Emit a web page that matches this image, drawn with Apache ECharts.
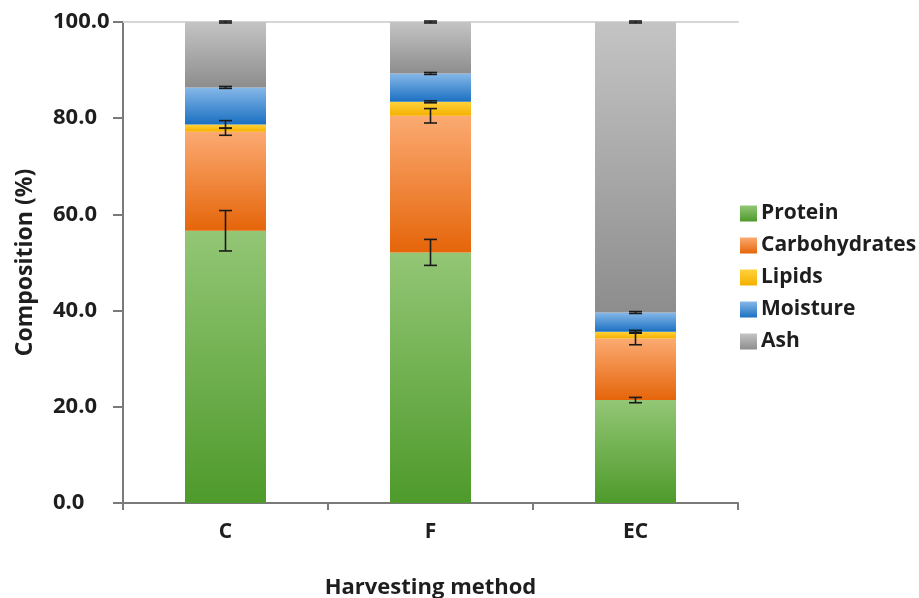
<!DOCTYPE html>
<html>
<head>
<meta charset="utf-8">
<script src="https://cdn.jsdelivr.net/npm/echarts@6/dist/echarts.min.js"></script>
<style>
  html, body { margin: 0; padding: 0; background: #fff; }
  #chart { width: 919px; height: 598px; }
</style>
</head>
<body>
<div id="chart"></div>
<script>
// Harvesting methods on the x axis
const categories = ['C', 'F', 'EC'];

// Composition (%) of each component, stacked bottom to top
const protein       = [56.6, 52.1, 21.4];
const carbohydrates = [20.6, 28.4, 12.8];
const lipids        = [1.5, 2.9, 1.4];
const moisture      = [7.7, 5.9, 4.0];
const ash           = [13.6, 10.7, 60.4];

// Standard deviations shown as error bars at the top of each segment
const proteinErr       = [4.2, 2.7, 0.55];
const carbohydratesErr = [0.75, 1.5, 1.3];
const lipidsErr        = [0.8, 0.2, 0.3];
const moistureErr      = [0.2, 0.2, 0.2];
const ashErr           = [0.2, 0.2, 0.2];

const yTicks = [0, 20, 40, 60, 80, 100];

const components = [
  { name: 'Protein',       values: protein,       err: proteinErr,       top: '#93c675', bottom: '#4e9a2b' },
  { name: 'Carbohydrates', values: carbohydrates, err: carbohydratesErr, top: '#fbaa72', bottom: '#e5650a' },
  { name: 'Lipids',        values: lipids,        err: lipidsErr,        top: '#ffd23c', bottom: '#f5b000' },
  { name: 'Moisture',      values: moisture,      err: moistureErr,      top: '#86b8e8', bottom: '#1b70c2' },
  { name: 'Ash',           values: ash,           err: ashErr,           top: '#c4c4c4', bottom: '#8d8d8d' }
];

const font = '"Open Sans", "DejaVu Sans", sans-serif';

function gradient(top, bottom) {
  return new echarts.graphic.LinearGradient(0, 0, 0, 1, [
    { offset: 0, color: top },
    { offset: 1, color: bottom }
  ]);
}

// Error bar data: [category index, cumulative top, deviation]
const errData = [];
const running = categories.map(() => 0);
components.forEach(c => {
  c.values.forEach((v, i) => {
    running[i] += v;
    errData.push([i, running[i], c.err[i]]);
  });
});

const barSeries = components.map(c => ({
  name: c.name,
  type: 'bar',
  stack: 'total',
  barWidth: 81,
  data: c.values,
  itemStyle: { color: gradient(c.top, c.bottom) },
  emphasis: { disabled: true }
}));

const errorSeries = {
  type: 'custom',
  name: 'error',
  data: errData,
  encode: { x: 0, y: 1 },
  z: 10,
  silent: true,
  renderItem: function (params, api) {
    const x = api.value(0);
    const y = api.value(1);
    const e = api.value(2);
    const hi = api.coord([x, y + e]);
    const lo = api.coord([x, y - e]);
    const half = 6.5;
    const style = { stroke: '#1a1a1a', lineWidth: 1.6 };
    return {
      type: 'group',
      children: [
        { type: 'line', shape: { x1: hi[0], y1: hi[1], x2: lo[0], y2: lo[1] }, style },
        { type: 'line', shape: { x1: hi[0] - half, y1: hi[1], x2: hi[0] + half, y2: hi[1] }, style },
        { type: 'line', shape: { x1: lo[0] - half, y1: lo[1], x2: lo[0] + half, y2: lo[1] }, style }
      ]
    };
  }
};

const chart = echarts.init(document.getElementById('chart'), null, { renderer: 'canvas' });
chart.setOption({
  animation: false,
  backgroundColor: '#ffffff',
  grid: { left: 123, right: 181, top: 22, bottom: 95, containLabel: false, outerBoundsMode: 'none' },
  legend: {
    data: components.map(c => c.name),
    orient: 'vertical',
    left: 735,
    top: 198,
    itemWidth: 17,
    itemHeight: 16,
    itemGap: 11,
    icon: 'rect',
    textStyle: { fontFamily: font, fontSize: 21, fontWeight: 'bold', color: '#1e1e1e', padding: [0, 0, 0, -1] },
    selectedMode: false
  },
  xAxis: [
    {
      type: 'category',
      data: categories,
      name: 'Harvesting method',
      nameLocation: 'middle',
      nameGap: 74,
      nameTextStyle: { fontFamily: font, fontSize: 22, fontWeight: 'bold', color: '#1e1e1e' },
      axisLine: { lineStyle: { color: '#7a7a7a', width: 2 } },
      axisTick: { show: true, length: 7, lineStyle: { color: '#7a7a7a', width: 2 } },
      axisLabel: { fontFamily: font, fontSize: 21, fontWeight: 'bold', color: '#1e1e1e', margin: 19 },
      splitLine: { show: false }
    },
    {
      type: 'category',
      data: categories,
      position: 'top',
      axisLine: { lineStyle: { color: '#d6d6d6', width: 2 } },
      axisTick: { show: false },
      axisLabel: { show: false }
    }
  ],
  yAxis: {
    type: 'value',
    min: yTicks[0],
    max: yTicks[yTicks.length - 1],
    interval: yTicks[1] - yTicks[0],
    name: 'Composition (%)',
    nameLocation: 'middle',
    nameGap: 86,
    nameTextStyle: { fontFamily: font, fontSize: 23, fontWeight: 'bold', color: '#1e1e1e' },
    axisLine: { show: true, lineStyle: { color: '#7a7a7a', width: 2 } },
    axisTick: { show: true, length: 10, lineStyle: { color: '#7a7a7a', width: 2 } },
    axisLabel: {
      fontFamily: font, fontSize: 22, fontWeight: 'bold', color: '#1e1e1e', margin: 70, align: 'left',
      formatter: v => v.toFixed(1)
    },
    splitLine: { show: false }
  },
  series: barSeries.concat([errorSeries])
});
</script>
</body>
</html>
